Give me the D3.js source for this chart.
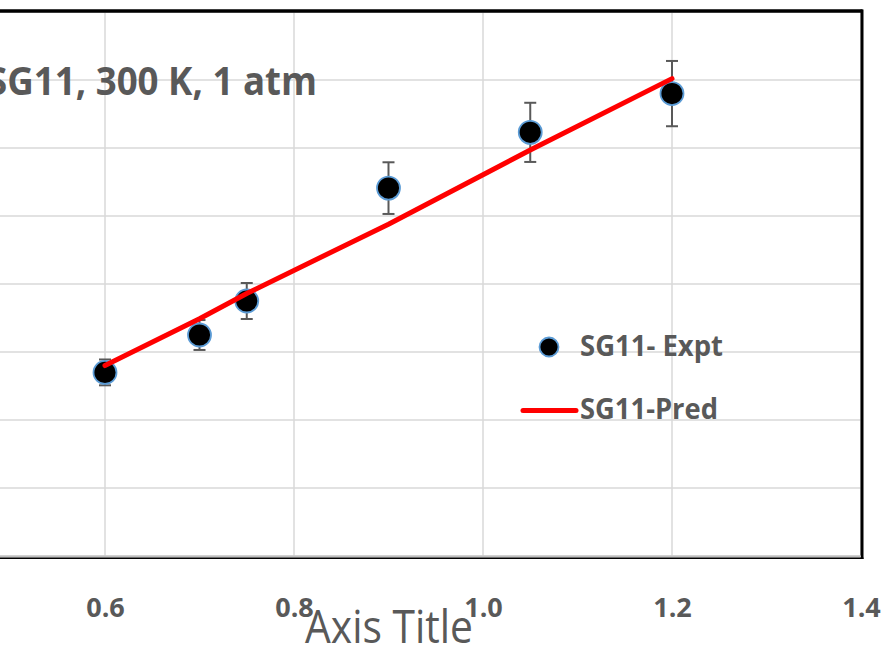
<!DOCTYPE html>
<html>
<head>
<meta charset="utf-8">
<script src="https://cdn.jsdelivr.net/npm/d3@7"></script>
<style>
  html, body { margin: 0; padding: 0; background: #fff; overflow: hidden; }
  svg { display: block; }
  text { font-family: "Open Sans", "Lato", sans-serif; fill: #595959; }
</style>
</head>
<body>
<svg id="chart" width="885" height="648"></svg>
<script>
// Measured values (x) with experimental uncertainty and model prediction
const xVals     = [0.6, 0.7, 0.75, 0.9, 1.05, 1.2];
const exptVals  = [2.70, 3.25, 3.75, 5.41, 6.23, 6.80];
const exptErr   = [0.19, 0.22, 0.265, 0.38, 0.435, 0.48];
const predVals  = [2.80, 3.49, 3.86, 4.88, 5.97, 7.02];
const xGridTicks = [0.4, 0.6, 0.8, 1.0, 1.2, 1.4];
const xLabelTicks = [0.6, 0.8, 1.0, 1.2, 1.4];
const xTickLabels = ["0.6", "0.8", "1.0", "1.2", "1.4"];
const yTicks    = [0, 1, 2, 3, 4, 5, 6, 7, 8];
const seriesNames = ["SG11- Expt", "SG11-Pred"];
const titleText = "SG11, 300 K, 1 atm";
const xAxisTitle = "Axis Title";

const svg = d3.select("#chart");

// Plot area (left part lies outside the visible frame)
const plot = { left: -84, right: 861, top: 12, bottom: 556 };

const x = d3.scaleLinear().domain([0.4, 1.4]).range([plot.left, plot.right]);
const y = d3.scaleLinear().domain([0, 8]).range([plot.bottom, plot.top]);

const grid = svg.append("g");

// Horizontal gridlines
grid.selectAll("line.h").data(yTicks).join("line")
  .attr("class", "h")
  .attr("x1", plot.left).attr("x2", plot.right)
  .attr("y1", d => y(d)).attr("y2", d => y(d))
  .attr("stroke", "#d9d9d9").attr("stroke-width", 1.5);

// Vertical gridlines
grid.selectAll("line.v").data(xGridTicks).join("line")
  .attr("class", "v")
  .attr("x1", d => x(d)).attr("x2", d => x(d))
  .attr("y1", plot.top).attr("y2", plot.bottom)
  .attr("stroke", "#d9d9d9").attr("stroke-width", 1.5);

// Plot-area frame: top and right in black, bottom axis line grey with black edge below
svg.append("line")
  .attr("x1", plot.left).attr("x2", plot.right + 1.5)
  .attr("y1", plot.top - 1).attr("y2", plot.top - 1)
  .attr("stroke", "#000").attr("stroke-width", 3.5);
svg.append("line")
  .attr("x1", plot.right + 1).attr("x2", plot.right + 1)
  .attr("y1", plot.top - 2.5).attr("y2", plot.bottom + 3)
  .attr("stroke", "#000").attr("stroke-width", 3);
svg.append("line")
  .attr("x1", plot.left).attr("x2", plot.right)
  .attr("y1", plot.bottom + 0.5).attr("y2", plot.bottom + 0.5)
  .attr("stroke", "#bfbfbf").attr("stroke-width", 1.8);
svg.append("line")
  .attr("x1", plot.left).attr("x2", plot.right + 2.5)
  .attr("y1", plot.bottom + 2.3).attr("y2", plot.bottom + 2.3)
  .attr("stroke", "#000").attr("stroke-width", 1.4);

// X-axis tick labels via d3 axis
const xAxis = d3.axisBottom(x)
  .tickValues(xLabelTicks)
  .tickFormat((d, i) => xTickLabels[i])
  .tickSize(0)
  .tickPadding(0);
const xAxisG = svg.append("g")
  .attr("transform", `translate(0, 598)`)
  .call(xAxis);
xAxisG.select(".domain").remove();
xAxisG.attr("font-size", null).attr("font-family", null);
xAxisG.selectAll("text")
  .attr("dy", null)
  .attr("y", 18.5)
  .style("font-family", "'Open Sans', sans-serif")
  .style("font-weight", "700")
  .style("font-size", "27px")
  .attr("fill", "#595959");

// Axis title
svg.append("text")
  .attr("x", 389).attr("y", 643)
  .attr("text-anchor", "middle")
  .attr("textLength", 168)
  .attr("lengthAdjust", "spacingAndGlyphs")
  .style("font-size", "45px")
  .style("font-weight", "400")
  .text(xAxisTitle);

// Chart title
svg.append("text")
  .attr("x", 317).attr("y", 95)
  .attr("text-anchor", "end")
  .attr("textLength", 330)
  .attr("lengthAdjust", "spacingAndGlyphs")
  .style("font-size", "39px")
  .style("font-weight", "700")
  .text(titleText);

const pts = xVals.map((v, i) => ({ x: v, y: exptVals[i], e: exptErr[i], p: predVals[i] }));

// Error bars
const eb = svg.append("g").attr("stroke", "#595959").attr("stroke-width", 2).attr("fill", "none");
eb.selectAll("line.stem").data(pts).join("line")
  .attr("class", "stem")
  .attr("x1", d => x(d.x)).attr("x2", d => x(d.x))
  .attr("y1", d => y(d.y + d.e)).attr("y2", d => y(d.y - d.e));
eb.selectAll("line.capT").data(pts).join("line")
  .attr("class", "capT")
  .attr("x1", d => x(d.x) - 6).attr("x2", d => x(d.x) + 6)
  .attr("y1", d => y(d.y + d.e)).attr("y2", d => y(d.y + d.e));
eb.selectAll("line.capB").data(pts).join("line")
  .attr("class", "capB")
  .attr("x1", d => x(d.x) - 6).attr("x2", d => x(d.x) + 6)
  .attr("y1", d => y(d.y - d.e)).attr("y2", d => y(d.y - d.e));

// Experimental markers
svg.append("g").selectAll("circle").data(pts).join("circle")
  .attr("cx", d => x(d.x)).attr("cy", d => y(d.y))
  .attr("r", 11.5)
  .attr("fill", "#000")
  .attr("stroke", "#5b9bd5").attr("stroke-width", 1.8);

// Prediction line
const line = d3.line().x(d => x(d.x)).y(d => y(d.p));
svg.append("path")
  .datum(pts)
  .attr("d", line)
  .attr("fill", "none")
  .attr("stroke", "#ff0000")
  .attr("stroke-width", 5)
  .attr("stroke-linecap", "round")
  .attr("stroke-linejoin", "round");

// Legend
const legend = svg.append("g");
legend.append("circle")
  .attr("cx", 549).attr("cy", 347).attr("r", 9.5)
  .attr("fill", "#000").attr("stroke", "#5b9bd5").attr("stroke-width", 1.8);
legend.append("line")
  .attr("x1", 523).attr("x2", 576).attr("y1", 410.5).attr("y2", 410.5)
  .attr("stroke", "#ff0000").attr("stroke-width", 5).attr("stroke-linecap", "round");
legend.selectAll("text").data(seriesNames).join("text")
  .attr("x", 580)
  .attr("y", (d, i) => i === 0 ? 356 : 419)
  .attr("textLength", (d, i) => i === 0 ? 143 : 138)
  .attr("lengthAdjust", "spacingAndGlyphs")
  .style("font-size", "28px")
  .style("font-weight", "700")
  .text(d => d);
</script>
</body>
</html>
